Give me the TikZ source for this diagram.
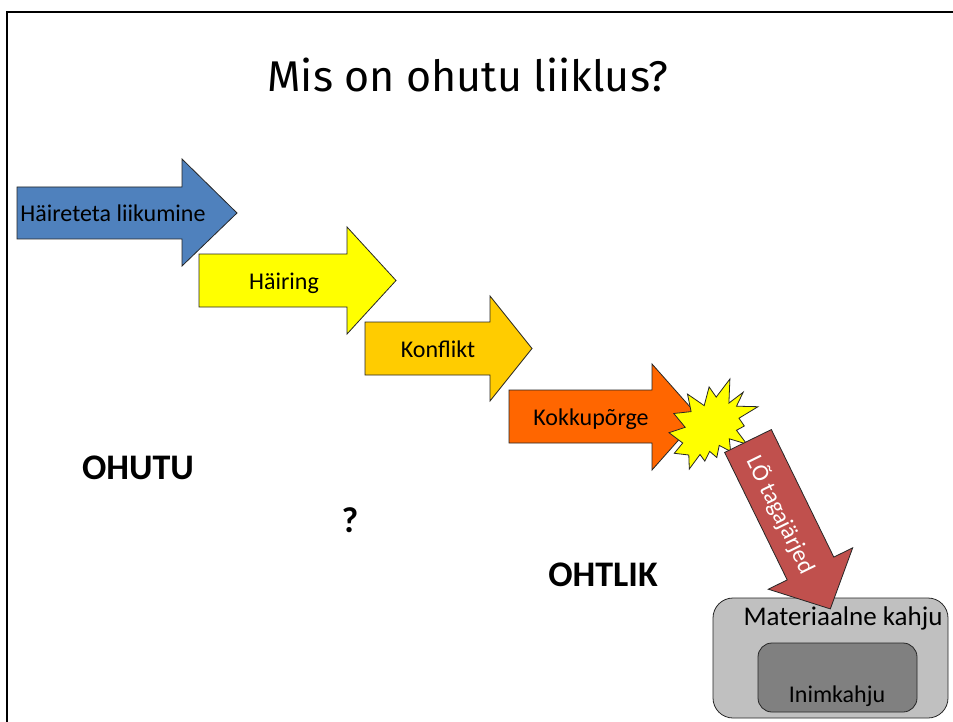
\documentclass[tikz,border=0pt]{standalone}
\usepackage{fontspec}
\setmainfont{Carlito}
\newfontfamily\titlefont{Fira Sans}
\definecolor{ablue}{HTML}{4F81BD}
\definecolor{ayellow}{HTML}{FFFF00}
\definecolor{agold}{HTML}{FFCC00}
\definecolor{aorange}{HTML}{FF6600}
\definecolor{ared}{HTML}{C0504D}
\definecolor{lgray}{HTML}{C0C0C0}
\definecolor{dgray}{HTML}{808080}
\begin{document}
\begin{tikzpicture}[x=1pt,y=-1pt,
  shp/.style={draw=black!85, line width=0.8pt, line join=miter},
  lbl/.style={font=\fontsize{24}{28}\selectfont, anchor=base, inner sep=0pt},
  big/.style={font=\fontsize{36}{40}\selectfont\bfseries, anchor=base, inner sep=0pt}]
\useasboundingbox (0,0) rectangle (953,722);
\fill[white] (0,0) rectangle (953,722);
% slide frame
\draw[line width=2pt] (7,730) -- (7,12) -- (960,12);
% title
\node[font=\titlefont\fontsize{43}{48}\selectfont, anchor=base, inner sep=0pt] (title) at (468,92) {Mis on ohutu liiklus?};
% arrows
\draw[shp, fill=ablue] (17,187) -- (182,187) -- (182,159) -- (237,213) -- (182,266) -- (182,239) -- (17,239) -- cycle;
\node[lbl] (a1) at (113,222) {Häireteta liikumine};
\draw[shp, fill=ayellow] (199,254) -- (347,254) -- (347,227) -- (396,280.5) -- (347,334) -- (347,307) -- (199,307) -- cycle;
\node[lbl] (a2) at (284,289) {Häiring};
\draw[shp, fill=agold] (365,322) -- (490,322) -- (490,296) -- (532,348.5) -- (490,401) -- (490,375) -- (365,375) -- cycle;
\node[lbl] (a3) at (438,357) {Konflikt};
\draw[shp, fill=aorange] (509,390) -- (652,390) -- (652,364) -- (699,417) -- (652,470) -- (652,443) -- (509,443) -- cycle;
\node[lbl] (a4) at (591,425) {Kokkupõrge};
% explosion
\draw[shp, fill=ayellow] (716.2,397.1) -- (729.9,379) -- (728.9,403.1) -- (743.2,392.2) -- (736.5,406.2) -- (758,406.7) -- (739.0,418.2) -- (744.3,426.0) -- (736.5,430.3) -- (746.8,444.1) -- (729.3,438.8) -- (730.6,451.4) -- (719.2,445.4) -- (716.8,457.5) -- (709.7,451.4) -- (704.8,461.1) -- (700.0,454.5) -- (689.3,469) -- (688.8,455.0) -- (674.3,453.3) -- (682.7,443.0) -- (669,432.7) -- (685.2,427.3) -- (673.8,413.5) -- (691.1,411.6) -- (687.5,394.1) -- (704.2,405.6) -- (709.1,386.9) -- cycle;
% damage boxes
\draw[shp, fill=lgray, rounded corners=20pt] (713,598) rectangle (948,718);
\node[font=\fontsize{27}{31}\selectfont, anchor=base, inner sep=0pt] (mat) at (843,625) {Materiaalne kahju};
\draw[shp, fill=dgray, rounded corners=14pt] (758,643) rectangle (917,712);
\node[lbl] (inim) at (837,702) {Inimkahju};
% consequence arrow
\draw[shp, fill=ared] (724.65,452.44) -- (771.35,429.56) -- (833.8,557.1) -- (852.7,547.8) -- (830.3,608.9) -- (768.3,589.2) -- (787.2,579.9) -- cycle;
\node[font=\fontsize{24}{28}\selectfont, text=white, rotate=-63.9, inner sep=0pt] (lo) at (781,515) {LÕ tagajärjed};
% state labels
\node[big] (ohutu) at (138,479) {OHUTU};
\node[big] (q) at (350,532) {?};
\node[big] (ohtlik) at (603,586) {OHTLIK};
\end{tikzpicture}
\end{document}
